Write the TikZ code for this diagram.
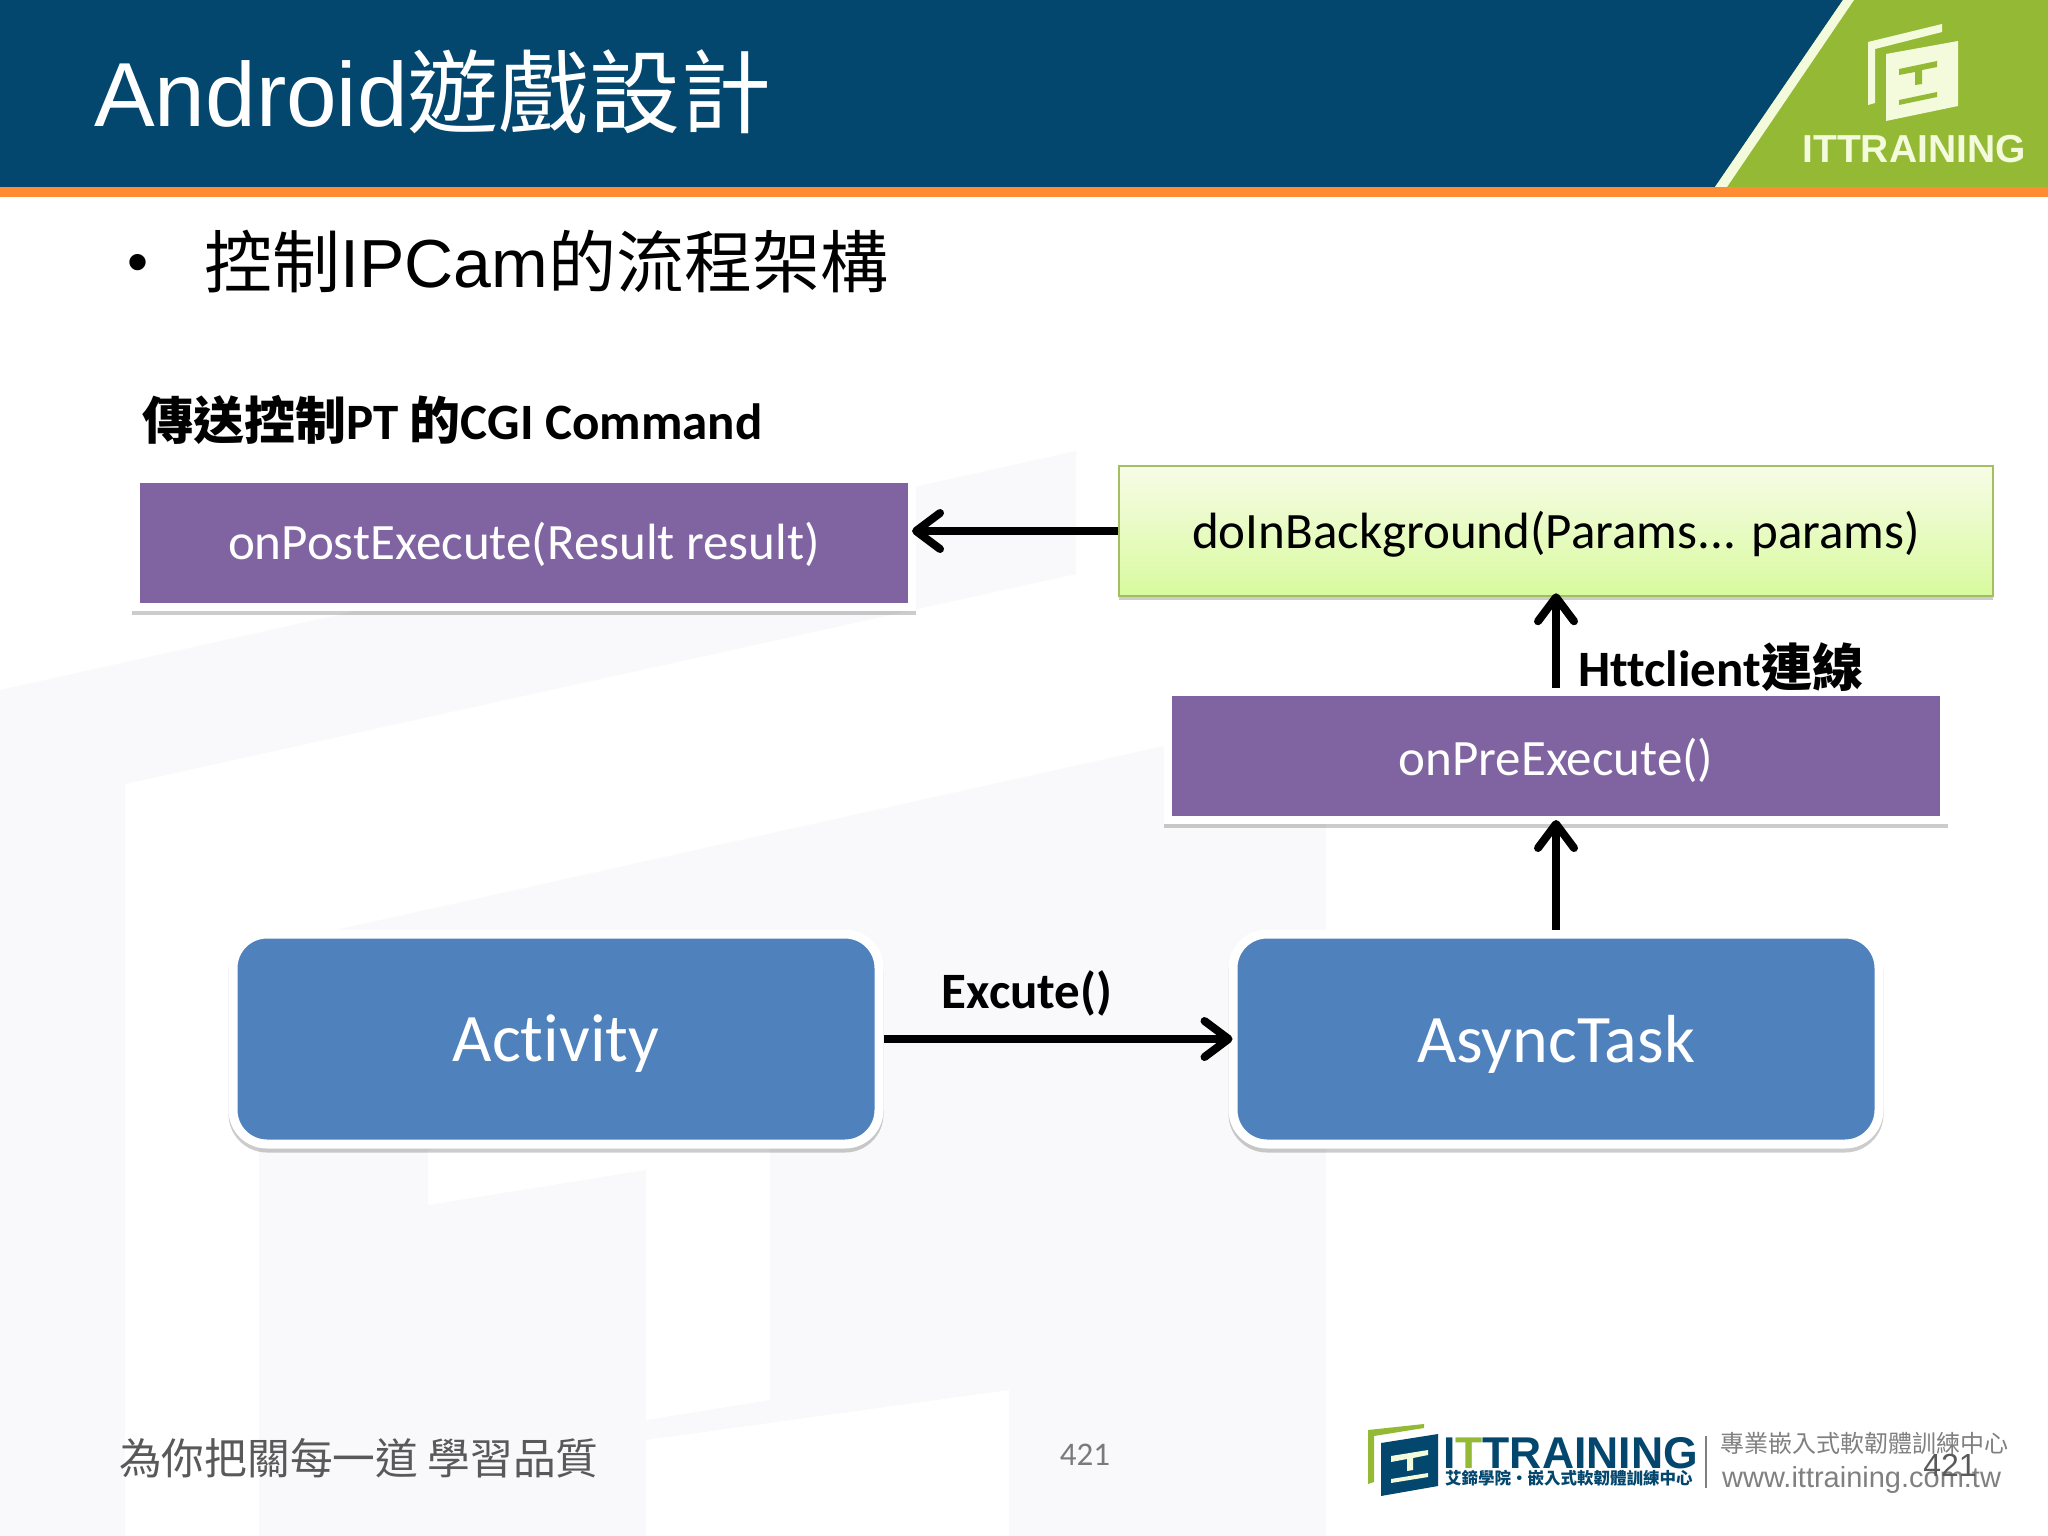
\documentclass[tikz,border=0pt]{standalone}
\usepackage{fontspec}
\setmainfont{Liberation Sans}
\newfontfamily\cjk{Noto Sans CJK TC}
\newfontfamily\cb[Ligatures=NoCommon]{Carlito}
\usetikzlibrary{shadows,arrows.meta,positioning}
\definecolor{navy}{HTML}{03466E}
\definecolor{barorange}{HTML}{FF8C33}
\definecolor{leaf}{HTML}{93B935}
\definecolor{cream}{HTML}{F4FBDC}
\definecolor{purplebox}{HTML}{8064A2}
\definecolor{bluebox}{HTML}{4F81BD}
\definecolor{wm}{HTML}{F9F9FB}
\definecolor{footgray}{HTML}{595959}
\definecolor{leafline}{HTML}{A3BF62}
\definecolor{greenlow}{HTML}{D8FA9E}
\newcommand{\lowertext}[2]{\raisebox{-#1}[\height][\depth]{#2}}
\tikzset{
 x=1pt,y=-1pt,
 framedshadow/.style={drop shadow={shadow xshift=0pt,shadow yshift=-4pt,opacity=.2,fill=black,draw=black}},
 sq/.style={shape=rectangle,inner sep=0pt,draw=white,line width=8pt,fill=purplebox,text=white,
   font=\cb\fontsize{51}{51}\selectfont,minimum width=776pt,minimum height=128pt,framedshadow},
 rr/.style={shape=rectangle,rounded corners=34pt,inner sep=0pt,draw=white,line width=9pt,fill=bluebox,text=white,
   font=\cb\fontsize{68}{68}\selectfont,minimum width=646pt,minimum height=210pt,framedshadow},
 gb/.style={shape=rectangle,inner sep=0pt,draw=leafline,line width=2.5pt,top color=cream!70!white,bottom color=greenlow,text=black,
   font=\cb\fontsize{51}{51}\selectfont,minimum width=874pt,minimum height=130pt,
   drop shadow={shadow xshift=0pt,shadow yshift=-4pt,opacity=.2,fill=black}},
 conn/.style={line width=8.5pt,shorten >=-4pt,-{Straight Barb[length=24pt,width=36pt,line width=8pt,round]}},
 lab/.style={font=\cb\bfseries\fontsize{51}{51}\selectfont,inner sep=0pt,text=black},
}
\begin{document}
\begin{tikzpicture}
\useasboundingbox (0,0) rectangle (2048,1536);
\fill[white] (0,0) rectangle (2048,1536);
% watermark
\fill[wm] (0,690) -- (1076,451) -- (1076,574) -- (125,784) -- (125,1536) -- (0,1536) -- cycle;
\fill[wm] (259,947) -- (1326,710) -- (1326,1536) -- (259,1536) -- cycle;
\fill[white] (428,1150) -- (770,1095) -- (770,1150) -- (428,1205) -- cycle;
\fill[white] (646,1150) -- (770,1130) -- (770,1400) -- (646,1420) -- cycle;
\fill[white] (646,1440) -- (1009,1390) -- (1009,1536) -- (646,1536) -- cycle;
% header
\fill[navy] (0,0) rectangle (2048,187);
\fill[leaf] (1843,0) -- (2048,0) -- (2048,187) -- (1715,187) -- cycle;
\fill[cream] (1843,0) -- (1854,0) -- (1727,187) -- (1715,187) -- cycle;
\fill[barorange] (0,187) rectangle (2048,197);
% header logo
\fill[cream] (1868,42) -- (1942,24) -- (1942,32) -- (1875,49) -- (1875,103) -- (1868,105) -- cycle;
\fill[cream] (1886,54) -- (1958,41) -- (1958,106) -- (1886,121) -- cycle;
\fill[leaf] (1899,69) -- (1937,61) -- (1937,67) -- (1922,70) -- (1922,84) -- (1915,85) -- (1915,72) -- (1899,75) -- cycle;
\fill[leaf] (1899,100) -- (1937,92) -- (1937,97) -- (1899,105) -- cycle;
\node[inner sep=0pt,text=cream,font=\bfseries\fontsize{39}{39}\selectfont] (hlogo) at (1914,149) {ITTRAINING};
% title
\node[anchor=base west,inner sep=0pt,text=white,font=\fontsize{91}{91}\selectfont] (title) at (94,127) {Android{\cjk 遊戲設計}};
\node[anchor=base,inner sep=0pt,font=\fontsize{60}{60}\selectfont] (bullet) at (138,282) {•};
\node[anchor=base west,inner sep=0pt,text=black,font=\fontsize{68}{68}\selectfont] (sub) at (204,287) {{\cjk 控制}IPCam{\cjk 的流程架構}};
% boxes
\node[sq] (post) at (524,543) {\lowertext{1.5pt}{onPostExecute(Result result)}};
\node[gb] (bg) at (1556,531) {\lowertext{3pt}{doInBackground(Params... params)}};
\node[sq] (pre) at (1556,756) {\lowertext{4pt}{onPreExecute()}};
\node[rr] (act) at (556,1039) {\lowertext{5pt}{Activity}};
\node[rr] (async) at (1556,1039) {\lowertext{5pt}{AsyncTask}};
% connectors
\draw[conn] (bg.west) -- (post.east |- bg.west);
\draw[conn] (pre.north) -- (bg.south);
\draw[conn] (async.north) -- (pre.south);
\draw[conn] (act.east) -- (async.west);
% labels
\node[lab,anchor=base west] (l1) at (142,439) {{\cjk\bfseries 傳送控制}PT {\cjk\bfseries 的}CGI Command};
\node[lab,anchor=base west] (l2) at (1578,686) {Httclient{\cjk\bfseries 連線}};
\node[lab,anchor=base] (l3) at (1027,1008) {Excute()};
% footer
\node[anchor=base west,inner sep=0pt,text=footgray,font=\cjk\fontsize{42.7}{42.7}\selectfont] (slogan) at (119,1474) {為你把關每一道 學習品質};
\node[inner sep=0pt,text=footgray!80,font=\cb\fontsize{33}{33}\selectfont] (pg1) at (1085,1455) {421};
% footer logo
\fill[leaf] (1368,1430) -- (1424,1424) -- (1424,1428) -- (1374,1436) -- (1374,1482) -- (1368,1484) -- cycle;
\fill[navy] (1381,1443) -- (1438,1434) -- (1438,1486) -- (1381,1496) -- cycle;
\fill[cream] (1391,1456) -- (1428,1450) -- (1428,1455) -- (1413,1458) -- (1413,1470) -- (1407,1471) -- (1407,1459) -- (1391,1462) -- cycle;
\fill[cream] (1391,1479) -- (1428,1473) -- (1428,1477) -- (1391,1483) -- cycle;
\node[anchor=base west,inner sep=0pt,text=navy,font=\bfseries\fontsize{44.5}{44.5}\selectfont] (flogo) at (1443,1468) {I\textcolor{leaf}{T}TRAINING};
\node[anchor=base west,inner sep=0pt,text=navy,font=\cjk\bfseries\fontsize{16.5}{16.5}\selectfont] (fsub) at (1445,1484) {艾鍗學院‧嵌入式軟韌體訓練中心};
\fill[gray] (1705,1436) rectangle (1707,1488);
\node[anchor=base west,inner sep=0pt,text=gray,font=\cjk\fontsize{24}{24}\selectfont] (fr1) at (1720,1452) {專業嵌入式軟韌體訓練中心};
\node[anchor=base west,inner sep=0pt,text=gray,font=\fontsize{29}{29}\selectfont] (fr2) at (1722,1487) {www.ittraining.com.tw};
\node[inner sep=0pt,text=footgray,font=\fontsize{32}{32}\selectfont] (pg2) at (1950,1465) {421};
\end{tikzpicture}
\end{document}
